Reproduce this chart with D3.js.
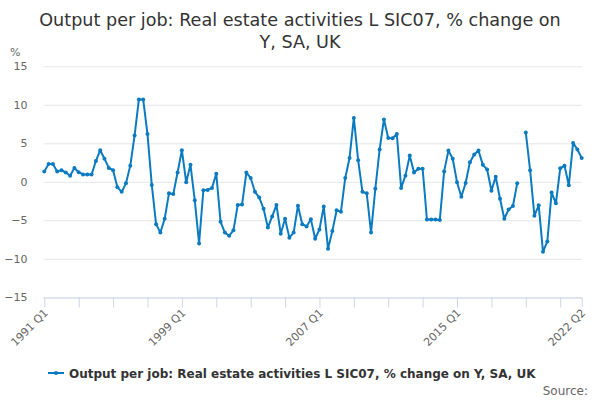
<!DOCTYPE html>
<html>
<head>
<meta charset="utf-8">
<script src="https://cdn.jsdelivr.net/npm/d3@7/dist/d3.min.js"></script>
<style>
  html, body { margin: 0; padding: 0; background: #fff; }
  svg { display: block; font-family: "DejaVu Sans", sans-serif; }
</style>
</head>
<body>
<svg id="chart" width="600" height="400"></svg>
<script>
// ---- data ----
const startYear = 1991;
const quarterLabels = ["1991 Q1", "1999 Q1", "2007 Q1", "2015 Q1", "2022 Q2"];
const labelIndices = [0, 32, 64, 96, 125];
const yTicks = [-15, -10, -5, 0, 5, 10, 15];
const seriesName = "Output per job: Real estate activities L SIC07, % change on Y, SA, UK";
const values = [
  1.35, 2.3, 2.3, 1.35, 1.5, 1.2, 0.8, 1.8, 1.25, 0.95, 0.95, 0.95,
  2.7, 4.1, 3.0, 1.8, 1.5, -0.7, -1.3, -0.2, 2.1, 6.0, 10.7, 10.7,
  6.2, -0.4, -5.5, -6.6, -4.8, -1.5, -1.6, 1.2,
  4.1, -0.05, 2.2, -2.4, -8.0, -1.1, -1.05, -0.8, 1.05, -5.2, -6.6, -7.0,
  -6.3, -3.0, -2.95, 1.2, 0.5, -1.3, -2.05, -3.5, -5.95, -4.5, -3.0, -6.75,
  -4.8, -7.25, -6.6, -3.1, -5.5, -5.8, -4.85, -7.4,
  -6.2, -3.2, -8.7, -6.4, -3.7, -3.9, 0.5, 3.1, 8.3, 2.8, -1.3, -1.5,
  -6.6, -0.9, 4.2, 8.1, 5.7, 5.65, 6.2, -0.8, 0.8, 3.4, 1.2, 1.7,
  1.7, -4.9, -4.9, -4.9, -4.95, 1.35, 4.05, 3.0,
  -0.05, -1.95, -0.15, 2.55, 3.55, 4.05, 2.2, 1.6, -1.15, 0.65, -2.2, -4.8,
  -3.6, -3.15, -0.2, null, 6.4, 1.5, -4.4, -3.05, -9.1, -7.75, -1.4, -2.8,
  1.75, 2.1, -0.45, 5.05, 4.2, 3.1
];

// ---- layout ----
const svg = d3.select("#chart");
const x = d3.scaleLinear().domain([0, values.length - 1]).range([44.3, 581.7]);
const y = d3.scaleLinear().domain([-15, 15]).range([297.3, 66.3]);
const color = "#0b7bc1";

// title
svg.append("text").attr("x", 300).attr("y", 26).attr("text-anchor", "middle")
  .attr("font-size", 17.6).attr("fill", "#333")
  .text("Output per job: Real estate activities L SIC07, % change on");
svg.append("text").attr("x", 300).attr("y", 48).attr("text-anchor", "middle")
  .attr("font-size", 17.6).attr("fill", "#333")
  .text("Y, SA, UK");

// y unit
svg.append("text").attr("x", 10).attr("y", 56).attr("font-size", 11)
  .attr("fill", "#666").text("%");

// grid
const yAxis = d3.axisLeft(y).tickValues(yTicks).tickSize(-(582 - 43.5)).tickPadding(16);
const gy = svg.append("g").attr("transform", "translate(43.5,0)").call(yAxis);
gy.select(".domain").remove();
gy.selectAll(".tick line").attr("stroke", "#e6e6e6");
gy.selectAll(".tick text").attr("font-size", 11).attr("fill", "#666")
  .attr("font-family", "DejaVu Sans, sans-serif");

// x axis
const xTickIdx = d3.range(0, values.length, 8).concat([values.length - 1]);
const xAxis = d3.axisBottom(x).tickValues(xTickIdx).tickSize(10)
  .tickFormat(d => { const k = labelIndices.indexOf(d); return k >= 0 ? quarterLabels[k] : ""; });
const gx = svg.append("g").attr("transform", "translate(0,297.5)").call(xAxis);
gx.select(".domain").attr("stroke", "#ccd6eb").attr("d", "M43.5,0.5H582");
gx.selectAll(".tick line").attr("stroke", "#ccd6eb").attr("y1", 0).attr("y2", 10);
gx.selectAll(".tick text").attr("font-size", 11).attr("fill", "#666")
  .attr("font-family", "DejaVu Sans, sans-serif")
  .attr("text-anchor", "end").attr("dy", null).attr("y", 0)
  .attr("transform", "translate(4,16) rotate(-45)");

// line
const line = d3.line().defined(d => d != null).x((d, i) => x(i)).y(d => y(d));
svg.append("path").datum(values).attr("d", line).attr("fill", "none")
  .attr("stroke", color).attr("stroke-width", 2).attr("stroke-linejoin", "round");
svg.append("g").selectAll("circle")
  .data(values.map((v, i) => [i, v]).filter(d => d[1] != null))
  .join("circle").attr("cx", d => x(d[0])).attr("cy", d => y(d[1])).attr("r", 2)
  .attr("fill", color);

// legend
const lg = svg.append("g");
lg.append("line").attr("x1", 48).attr("x2", 64).attr("y1", 373).attr("y2", 373)
  .attr("stroke", color).attr("stroke-width", 2);
lg.append("circle").attr("cx", 56).attr("cy", 373).attr("r", 2).attr("fill", color);
lg.append("text").attr("x", 69).attr("y", 378).attr("font-size", 12)
  .attr("font-weight", "bold").attr("fill", "#333").text(seriesName);

// credits
svg.append("text").attr("x", 588).attr("y", 395).attr("text-anchor", "end")
  .attr("font-size", 12).attr("fill", "#666").text("Source:");
</script>
</body>
</html>
